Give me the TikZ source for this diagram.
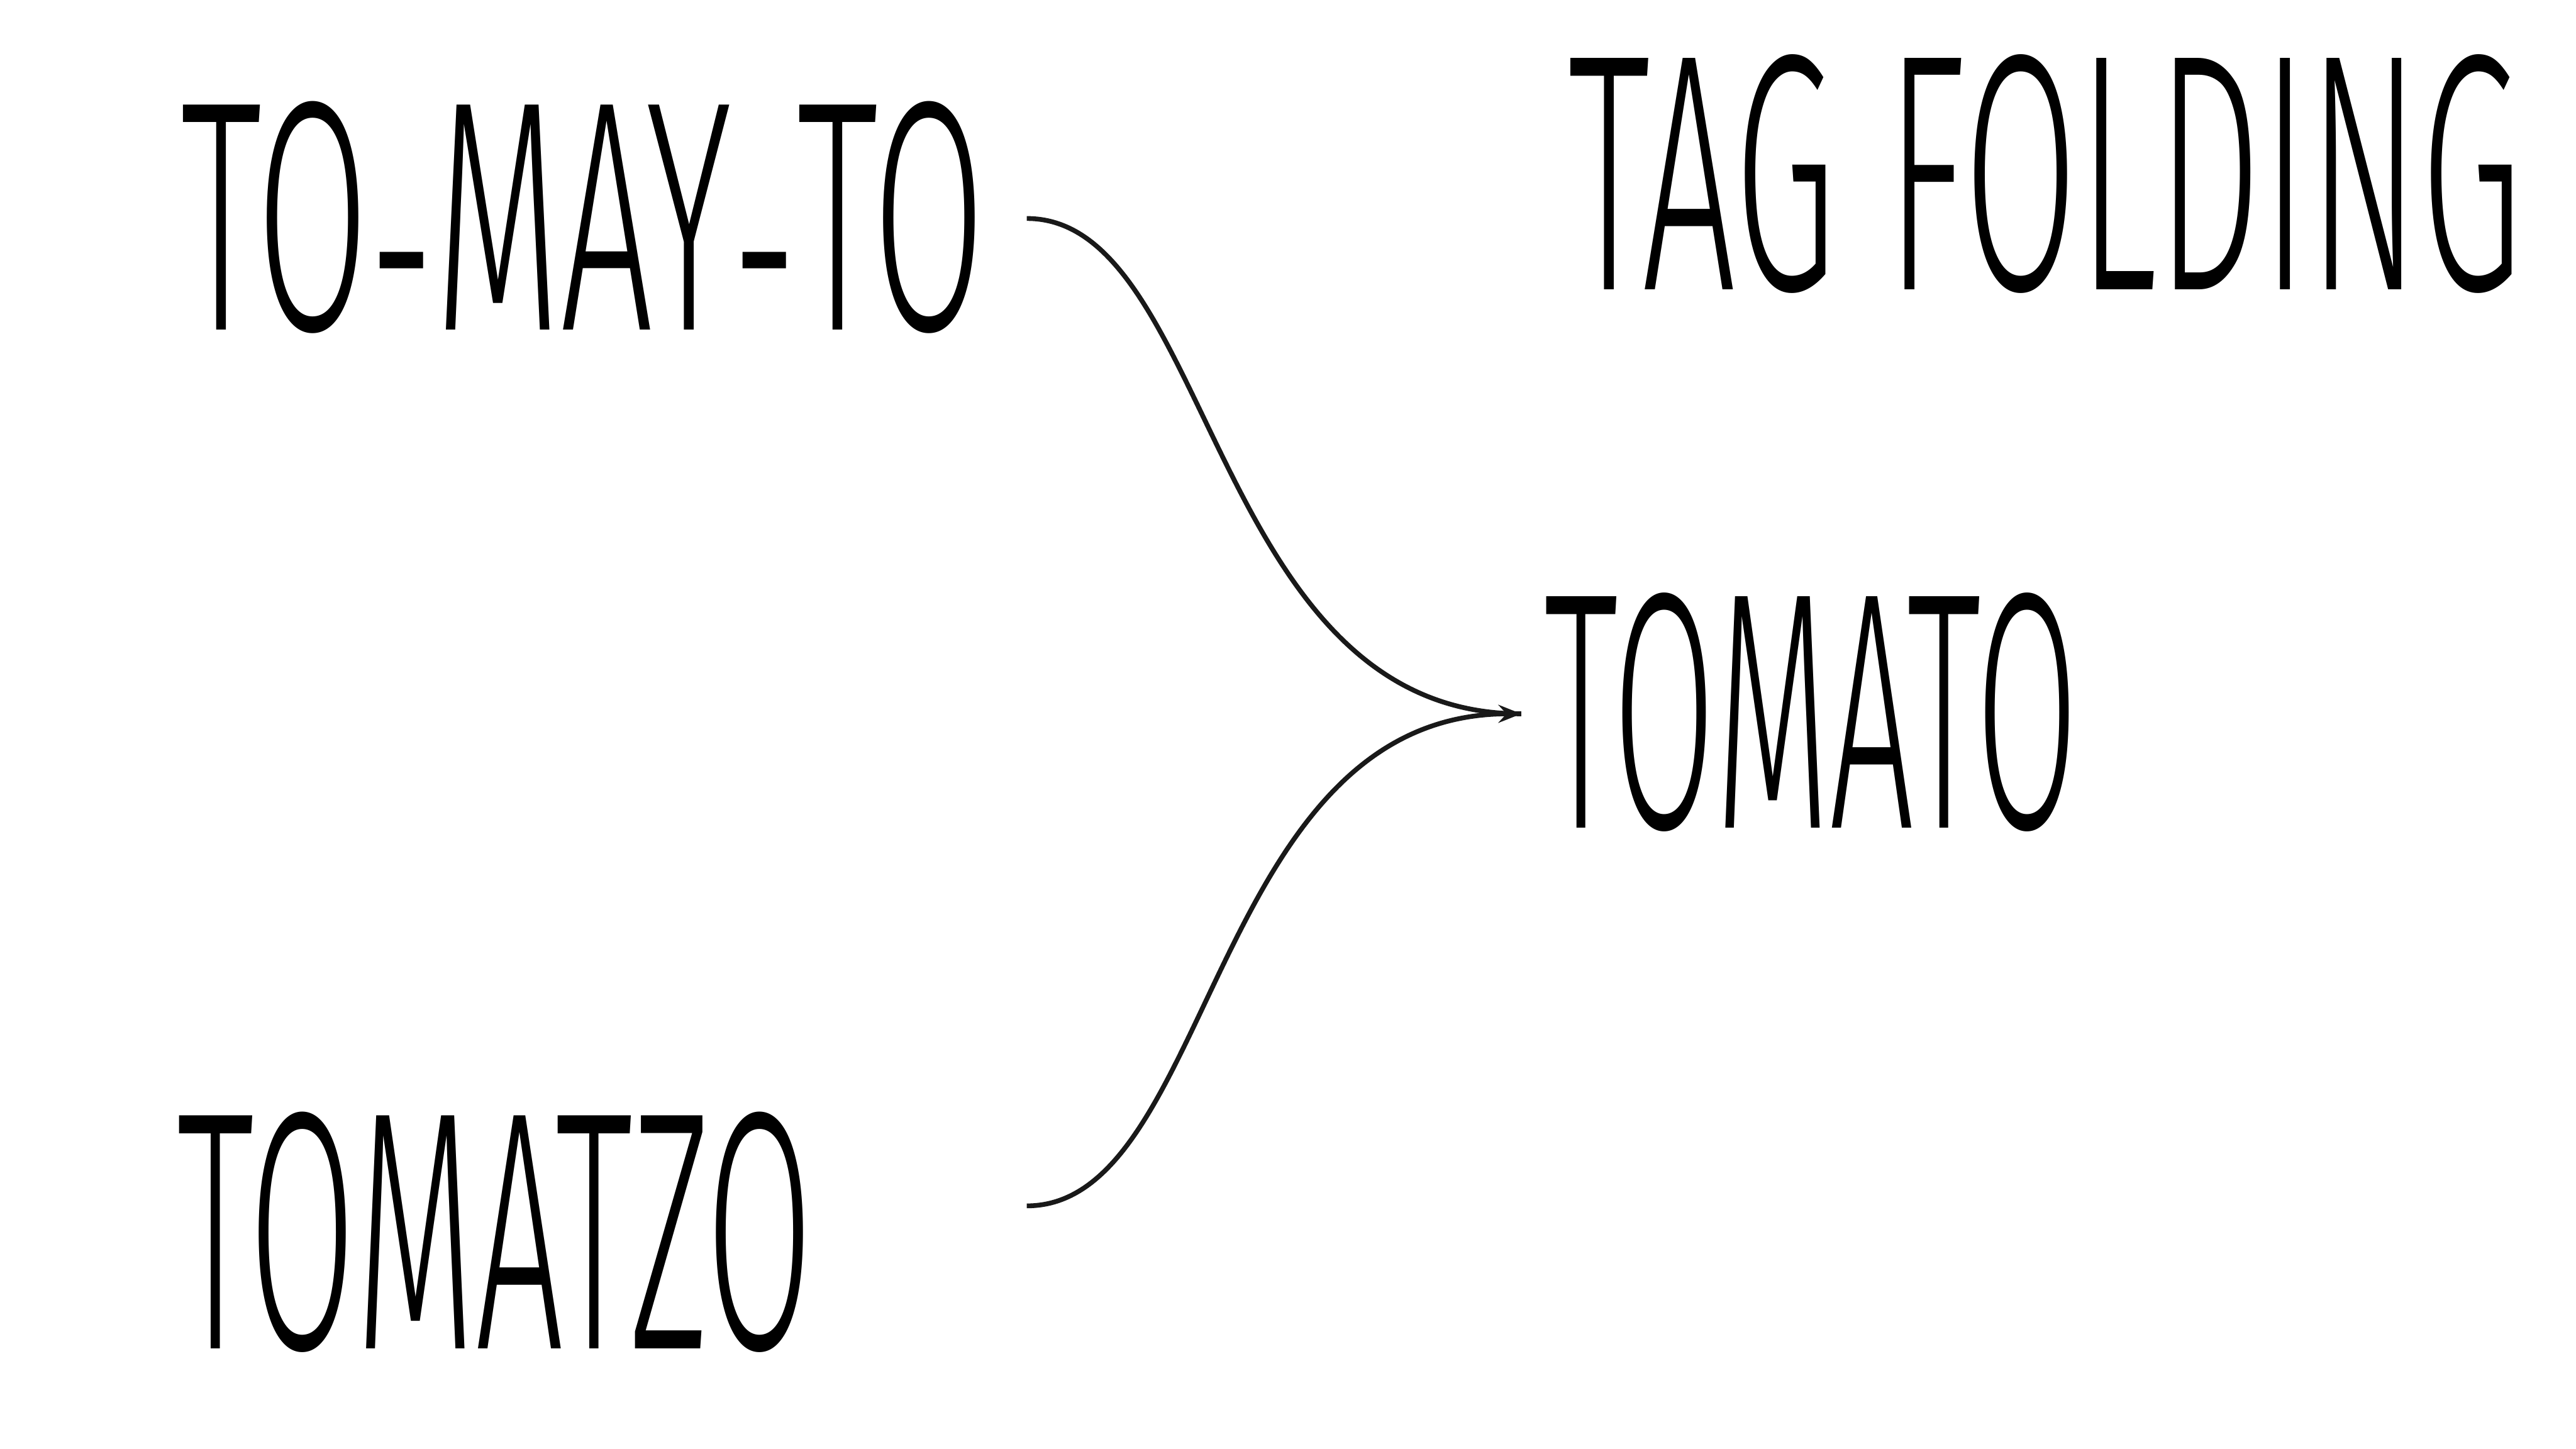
\documentclass[tikz,border=0pt]{standalone}
\usepackage{fontspec}
\setmainfont{Fira Sans}[UprightFont={* Light}]
\usetikzlibrary{arrows.meta}
\newcommand{\fitword}[3]{\resizebox{#1}{#2}{#3}}
\newcommand{\lowdash}{\raisebox{-1pt}[0pt][0pt]{-}}
\tikzset{
  word/.style={inner sep=0pt, outer sep=0pt},
  link/.style={line width=2.9pt, draw=black!90},
  tip/.style={-{Stealth[length=14pt,width=11pt,inset=5pt]}}
}
\begin{document}
\begin{tikzpicture}[x=1pt,y=-1pt]
  \useasboundingbox (0,0) rectangle (1568,882);
  \fill[white] (0,0) rectangle (1568,882);
  \node[word] (tomayto) at (355,132.5) {\fitword{490pt}{139pt}{TO\lowdash MAY\lowdash TO}};
  \node[word] (tagfold) at (1245,106) {\fitword{580pt}{143pt}{TAG\hspace{3pt}FOLDING}};
  \node[word] (tomato) at (1102.5,433.5) {\fitword{325pt}{143pt}{TOMATO}};
  \node[word] (tomatzo) at (301.5,750) {\fitword{387pt}{144pt}{TOMATZO}};
  \coordinate (s1) at (625,133);
  \coordinate (s2) at (625,734);
  \coordinate (t) at (926,434.5);
  \draw[link] (s1) .. controls (738,133) and (737,434.5) .. (t);
  \draw[link,tip] (s2) .. controls (738,734) and (737,434.5) .. (t);
\end{tikzpicture}
\end{document}
